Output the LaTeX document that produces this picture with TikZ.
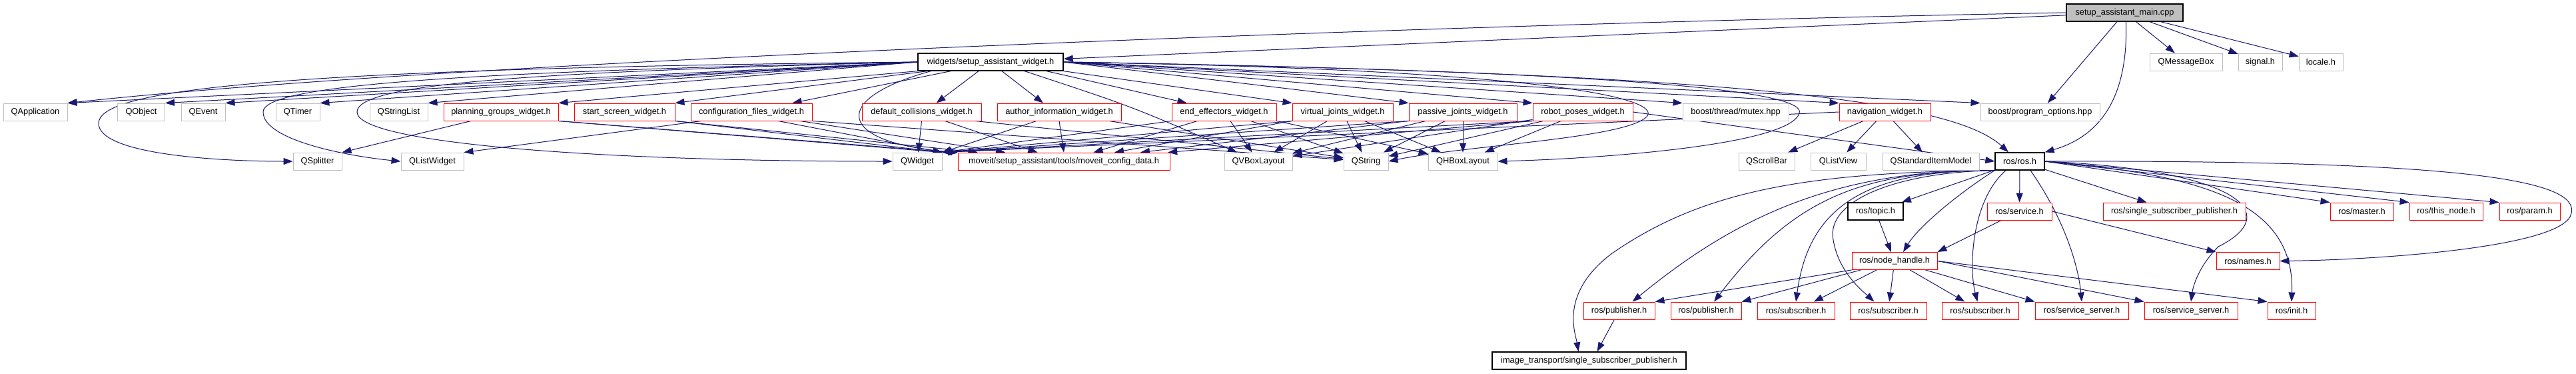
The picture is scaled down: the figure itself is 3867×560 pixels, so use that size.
\documentclass[tikz,border=0pt]{standalone}
\usepackage{fontspec}
\setmainfont{Liberation Sans}
\usetikzlibrary{arrows.meta}
\definecolor{edgeblue}{HTML}{191970}
\definecolor{greyseventyfive}{HTML}{BFBFBF}
\pgfdeclarelayer{bg}
\pgfsetlayers{bg,main}
\begin{document}
\begin{tikzpicture}[x=1pt,y=-1pt,
  box/.style={rectangle, inner sep=0pt, minimum height=26pt, font=\fontsize{12.8}{15}\selectfont, fill=white, line width=0.9pt},
  gbox/.style={box, draw=greyseventyfive},
  rbox/.style={box, draw=red},
  bbox/.style={box, draw=black, line width=1.3pt},
  mainbox/.style={box, draw=black, fill=greyseventyfive, line width=1.3pt},
  dep/.style={draw=edgeblue, line width=1pt, -{Triangle[length=14pt,width=10pt]}},
]
\useasboundingbox (0,0) rectangle (3867,560);
% row 0 / 1
\node[mainbox,minimum width=175pt] (main) at (3189.5,19) {setup\_assistant\_main.cpp};
\node[bbox,minimum width=218pt] (saw) at (1487,93) {widgets/setup\_assistant\_widget.h};
\node[gbox,minimum width=109pt] (qmsg) at (3281.5,93) {QMessageBox};
\node[gbox,minimum width=66pt] (signal) at (3393,93) {signal.h};
\node[gbox,minimum width=66pt] (locale) at (3484,93) {locale.h};
% row 2
\node[gbox,minimum width=96pt] (qapp) at (53,168) {QApplication};
\node[gbox,minimum width=71pt] (qobj) at (212,168) {QObject};
\node[gbox,minimum width=66pt] (qevent) at (305,168) {QEvent};
\node[gbox,minimum width=66pt] (qtimer) at (447,168) {QTimer};
\node[gbox,minimum width=87pt] (qsl) at (598.5,168) {QStringList};
\node[rbox,minimum width=172pt] (pgw) at (752,168) {planning\_groups\_widget.h};
\node[rbox,minimum width=151pt] (ssw) at (937.5,168) {start\_screen\_widget.h};
\node[rbox,minimum width=182pt] (cfw) at (1128,168) {configuration\_files\_widget.h};
\node[rbox,minimum width=179pt] (dcw) at (1383.5,168) {default\_collisions\_widget.h};
\node[rbox,minimum width=186pt] (aiw) at (1590,168) {author\_information\_widget.h};
\node[rbox,minimum width=157pt] (eew) at (1837.5,168) {end\_effectors\_widget.h};
\node[rbox,minimum width=151pt] (vjw) at (2015.5,168) {virtual\_joints\_widget.h};
\node[rbox,minimum width=162pt] (pjw) at (2196,168) {passive\_joints\_widget.h};
\node[rbox,minimum width=150pt] (rpw) at (2376,168) {robot\_poses\_widget.h};
\node[gbox,minimum width=159pt] (mutex) at (2605.5,168) {boost/thread/mutex.hpp};
\node[rbox,minimum width=137pt] (navw) at (2829.5,168) {navigation\_widget.h};
\node[gbox,minimum width=179pt] (bpo) at (3062.5,168) {boost/program\_options.hpp};
% row 3
\node[gbox,minimum width=73pt] (qsplit) at (476.5,242) {QSplitter};
\node[gbox,minimum width=94pt] (qlw) at (649,242) {QListWidget};
\node[gbox,minimum width=74pt] (qwidget) at (1377,242) {QWidget};
\node[rbox,minimum width=318pt] (mcd) at (1597,242) {moveit/setup\_assistant/tools/moveit\_config\_data.h};
\node[gbox,minimum width=102pt] (qvbox) at (1889,242) {QVBoxLayout};
\node[gbox,minimum width=67pt] (qstring) at (2050.5,242) {QString};
\node[gbox,minimum width=104pt] (qhbox) at (2196,242) {QHBoxLayout};
\node[gbox,minimum width=84pt] (qscroll) at (2652,242) {QScrollBar};
\node[gbox,minimum width=83pt] (qlistview) at (2759.5,242) {QListView};
\node[gbox,minimum width=145pt] (qsim) at (2898.5,242) {QStandardItemModel};
\node[bbox,minimum width=74pt] (ros) at (3032,242) {ros/ros.h};
% row 4
\node[bbox,minimum width=83pt] (topic) at (2815.5,317) {ros/topic.h};
\node[rbox,minimum width=97pt] (service) at (3031.5,317) {ros/service.h};
\node[rbox,minimum width=214pt] (rssp) at (3264,317) {ros/single\_subscriber\_publisher.h};
\node[rbox,minimum width=95pt] (master) at (3545.5,317) {ros/master.h};
\node[rbox,minimum width=110pt] (thisnode) at (3672,317) {ros/this\_node.h};
\node[rbox,minimum width=91pt] (param) at (3797.5,317) {ros/param.h};
% row 5
\node[rbox,minimum width=128pt] (nh) at (2844,391.5) {ros/node\_handle.h};
\node[rbox,minimum width=95pt] (names) at (3374.5,391.5) {ros/names.h};
% row 6
\node[rbox,minimum width=107pt] (pubA) at (2430.5,466) {ros/publisher.h};
\node[rbox,minimum width=106pt] (pubB) at (2561,466) {ros/publisher.h};
\node[rbox,minimum width=116pt] (subA) at (2696,466) {ros/subscriber.h};
\node[rbox,minimum width=115pt] (subB) at (2834.5,466) {ros/subscriber.h};
\node[rbox,minimum width=115pt] (subC) at (2972.5,466) {ros/subscriber.h};
\node[rbox,minimum width=140pt] (ssA) at (3125,466) {ros/service\_server.h};
\node[rbox,minimum width=140pt] (ssB) at (3289,466) {ros/service\_server.h};
\node[rbox,minimum width=72pt] (init) at (3440,466) {ros/init.h};
% row 7
\node[bbox,minimum width=291pt] (itssp) at (2385.5,541) {image\_transport/single\_subscriber\_publisher.h};

\begin{pgfonlayer}{bg}
\fill[white] (0,0) rectangle (3867,560);
% main
\draw[dep] (main) -- (saw);
\draw[dep] (main.west) .. controls (2200,35) and (700,90) .. (qapp.north east);
\draw[dep] (main) -- (bpo);
\draw[dep] ([xshift=2pt]main.south) .. controls (3195,150) and (3150,205) .. (ros.north east);
\draw[dep] (main) -- (qmsg);
\draw[dep] (main) -- (signal);
\draw[dep] (main) -- (locale);
% setup_assistant_widget, left side
\draw[dep] (saw.west) -- (qapp.north east);
\draw[dep] (saw.west) -- (qobj.north east);
\draw[dep] (saw.west) -- (qevent.north east);
\draw[dep] (saw.west) -- (qtimer.north east);
\draw[dep] (saw.west) -- (qsl.north east);
\draw[dep] (saw.west) .. controls (400,103) and (148,135) .. (148,185) .. controls (148,232) and (330,242) .. (qsplit.west);
\draw[dep] (saw.west) .. controls (650,108) and (395,130) .. (395,168) .. controls (395,210) and (520,234) .. (qlw.west);
\draw[dep] (saw.west) .. controls (800,108) and (536,125) .. (536,168) .. controls (536,215) and (900,242) .. (qwidget.west);
\draw[dep] (saw.south west) -- (pgw.north east);
\draw[dep] ([xshift=15pt]saw.south west) -- (ssw.north east);
\draw[dep] ([xshift=50pt]saw.south west) -- ([xshift=-30pt]cfw.north east);
\draw[dep] ([xshift=-18pt]saw.south) -- ([xshift=22pt]dcw.north);
\draw[dep] ([xshift=20pt]saw.south west) .. controls (1240,150) and (1260,215) .. (mcd.north west);
% setup_assistant_widget, right side
\draw[dep] ([xshift=17pt]saw.south) -- ([xshift=-24pt]aiw.north);
\draw[dep] ([xshift=51pt]saw.south) .. controls (1700,160) .. ([xshift=-32pt]qvbox.north);
\draw[dep] ([xshift=84pt]saw.south) -- ([xshift=-56pt]eew.north);
\draw[dep] (saw.south east) -- (vjw.north west);
\draw[dep] (saw.east) -- (pjw.north west);
\draw[dep] (saw.east) -- (rpw.north west);
\draw[dep] (saw.east) -- (mutex.north west);
\draw[dep] (saw.east) -- (navw.north west);
\draw[dep] (saw.east) -- (bpo.north west);
\draw[dep] (saw.east) .. controls (2600,110) and (2930,150) .. ([xshift=-17pt]ros.north);
\draw[dep] (saw.east) .. controls (2350,105) and (2495,150) .. (2472,175) .. controls (2440,208) and (2200,218) .. (qstring.east);
\draw[dep] (saw.east) .. controls (2500,108) and (2712,140) .. (2701,170) .. controls (2685,218) and (2400,238) .. (qhbox.east);
% widgets
\draw[dep] ([xshift=-45pt]pgw.south) -- (qsplit.north east);
\draw[dep] (pgw.south east) -- (qwidget.north east);
\draw[dep] (pgw.south east) -- (mcd);
\draw[dep] (ssw.south east) -- (qwidget.north east);
\draw[dep] (ssw.south east) -- (mcd);
\draw[dep] ([xshift=-75pt]cfw.south) -- (qlw.north east);
\draw[dep] ([xshift=40pt]cfw.south) -- (qwidget.north east);
\draw[dep] ([xshift=73pt]cfw.south) -- (mcd);
\draw[dep] (cfw.south east) -- (qstring);
\draw[dep] (dcw.south) -- (qwidget);
\draw[dep] ([xshift=35pt]dcw.south) -- (mcd);
\draw[dep] ([xshift=80pt]dcw.south) -- (qstring);
\draw[dep] ([xshift=-34pt]aiw.south) -- (qwidget.north east);
\draw[dep] (aiw.south) -- (mcd.north);
\draw[dep] ([xshift=75pt]aiw.south) -- (qstring);
\draw[dep] (eew.south west) -- (qwidget.north east);
\draw[dep] ([xshift=-40pt]eew.south) -- (mcd);
\draw[dep] (eew) -- (qvbox);
\draw[dep] ([xshift=40pt]eew.south) -- (qstring);
\draw[dep] (eew.south east) -- (qhbox);
\draw[dep] (vjw.south west) -- (qwidget.north east);
\draw[dep] (vjw.south west) -- (mcd);
\draw[dep] (vjw) -- (qvbox);
\draw[dep] (vjw) -- (qstring);
\draw[dep] (vjw) -- (qhbox);
\draw[dep] (pjw.south west) -- (qwidget.north east);
\draw[dep] (pjw.south west) -- (mcd);
\draw[dep] (pjw) -- (qvbox);
\draw[dep] (pjw) -- (qstring);
\draw[dep] (pjw) -- (qhbox);
\draw[dep] (rpw.south west) -- (qwidget.north east);
\draw[dep] (rpw.south west) -- (mcd);
\draw[dep] (rpw) -- (qvbox);
\draw[dep] (rpw) -- (qstring);
\draw[dep] (rpw) -- (qhbox);
\draw[dep] (rpw.east) -- (ros.west);
\draw[dep] (navw) -- (qscroll);
\draw[dep] (navw) -- (qlistview);
\draw[dep] (navw) -- (qsim);
\draw[dep] (navw.west) -- (qwidget.north east);
% ros.h
\draw[dep] (ros) -- (topic);
\draw[dep] (ros) -- (service);
\draw[dep] (ros) -- (rssp);
\draw[dep] (ros.east) -- (master.north west);
\draw[dep] (ros.east) -- (thisnode.north west);
\draw[dep] (ros.east) -- (param.north west);
\draw[dep] (ros.east) .. controls (3700,240) and (3872,270) .. (3860,320) .. controls (3850,372) and (3560,390) .. (names.east);
\draw[dep] (ros.east) .. controls (3300,262) and (3445,300) .. (init.north);
\draw[dep] (ros.east) .. controls (3360,255) and (3430,320) .. (3330,370) .. controls (3300,400) and (3292,430) .. (ssB.north);
\draw[dep] ([xshift=16pt]ros.south) .. controls (3100,330) and (3120,400) .. (ssA.north);
\draw[dep] ([xshift=-21pt]ros.south) .. controls (2960,300) and (2955,400) .. ([xshift=-4pt]subC.north);
\draw[dep] (ros.south west) .. controls (2940,290) and (2880,340) .. ([xshift=13pt]nh.north);
\draw[dep] (ros.south west) .. controls (2850,258) and (2740,300) .. (2752,360) .. controls (2760,410) and (2800,440) .. ([xshift=-21pt]subB.north);
\draw[dep] (ros.south west) .. controls (2800,255) and (2715,310) .. (subA.north);
\draw[dep] (ros.south west) .. controls (2790,256) and (2690,300) .. ([xshift=12pt]pubB.north);
\draw[dep] (ros.south west) .. controls (2750,254) and (2600,330) .. ([xshift=20pt]pubA.north);
\draw[dep] (ros.south west) .. controls (2700,258) and (2550,290) .. (2420,380) .. controls (2340,440) and (2365,500) .. ([xshift=-16pt]itssp.north);
% lower
\draw[dep] (topic) -- (nh);
\draw[dep] (service) -- (nh.north east);
\draw[dep] (service.east) -- (names.north west);
\draw[dep] (nh.south west) -- (pubA.north east);
\draw[dep] (nh) -- (pubB.north east);
\draw[dep] (nh) -- (subA);
\draw[dep] (nh) -- (subB);
\draw[dep] (nh) -- (subC);
\draw[dep] (nh) -- (ssA.north west);
\draw[dep] (nh.east) -- (ssB.north west);
\draw[dep] (nh.east) -- (init.north west);
\draw[dep] (pubA) -- ([xshift=12pt]itssp.north);
\end{pgfonlayer}
\end{tikzpicture}
\end{document}
